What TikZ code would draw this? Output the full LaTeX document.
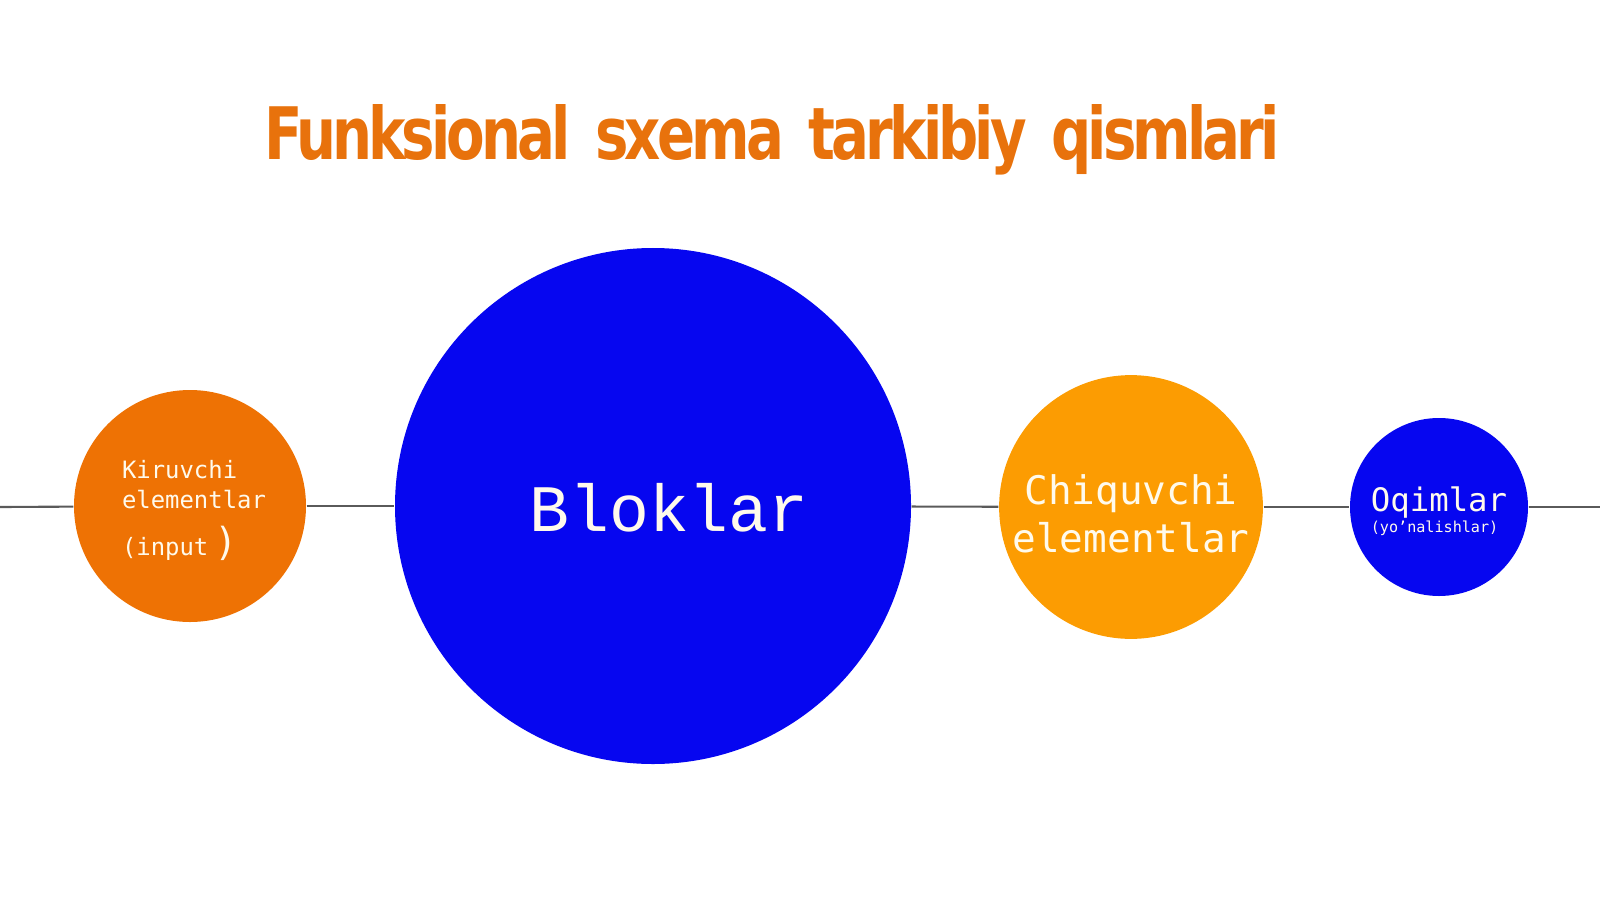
\documentclass[tikz,border=0pt]{standalone}
\usepackage{fontspec}
\newfontfamily\titlefont[LetterSpace=-7,WordSpace=1.6]{DejaVu Sans}
\newfontfamily\bigmono{Liberation Mono}
\newfontfamily\smallmono{DejaVu Sans Mono}
\definecolor{ttlorange}{RGB}{232,114,12}
\definecolor{inorange}{RGB}{238,114,4}
\definecolor{outorange}{RGB}{252,156,2}
\definecolor{blokblue}{RGB}{6,6,240}
\definecolor{txtcream}{RGB}{255,250,236}
\definecolor{linegray}{RGB}{90,90,90}
% text block pushed down inside its circle (by half of #1)
\newcommand{\sunk}[3]{\raisebox{0pt}[\dimexpr\height+#1\relax][\depth]{\begin{tabular}{@{}#2@{}}#3\end{tabular}}}

\begin{document}
\begin{tikzpicture}[x=1cm, y=1cm,
    blob/.style={circle, inner sep=0pt, text=txtcream},
    wire/.style={color=linegray, line width=0.6pt}]
    \useasboundingbox (0,0) rectangle (16,9);
    %\draw[help lines] (0,0) grid (16,9);
    \node[anchor=base, text=ttlorange] (title) at (7.72,7.40)
        {\resizebox{10.15cm}{0.55cm}{\titlefont\bfseries Funksional sxema tarkibiy qismlari}};
    \node[blob, fill=inorange, minimum size=2.32cm,
        font=\smallmono\fontsize{6.8}{8.4}\selectfont] (inp) at (1.90,3.94)
        {\hspace*{0.08cm}\sunk{0.10cm}{l}{Kiruvchi\\elementlar\\[2.5pt](input\hspace{1.6pt}{\fontsize{11}{10}\selectfont)}}};
    \node[blob, fill=blokblue, minimum size=5.16cm,
        font=\bigmono\fontsize{18.9}{20}\selectfont] (blok) at (6.53,3.94)
        {\hspace*{0.32cm}\sunk{0.22cm}{c}{Bloklar}};
    \node[blob, fill=outorange, minimum size=2.62cm,
        font=\smallmono\fontsize{11.2}{13.1}\selectfont] (out) at (11.31,3.93)
        {\sunk{0.24cm}{c}{Chiquvchi\\[0.5pt]elementlar}};
    \node[blob, fill=blokblue, minimum size=1.78cm,
        font=\smallmono\fontsize{9.2}{9.6}\selectfont] (oqim) at (14.39,3.93)
        {\sunk{0.16cm}{l}{Oqimlar\\[-3.6pt]{\fontsize{4.3}{5}\selectfont(yo’nalishlar)}}};
    \coordinate (lw) at (0,3.93);
    \coordinate (rw) at (16,3.93);
    \draw[wire] (lw) -- (inp);
    \draw[wire] (inp) -- (blok);
    \draw[wire] (blok) -- (out);
    \draw[wire] (out) -- (oqim);
    \draw[wire] (oqim) -- (rw);
\end{tikzpicture}
\end{document}
